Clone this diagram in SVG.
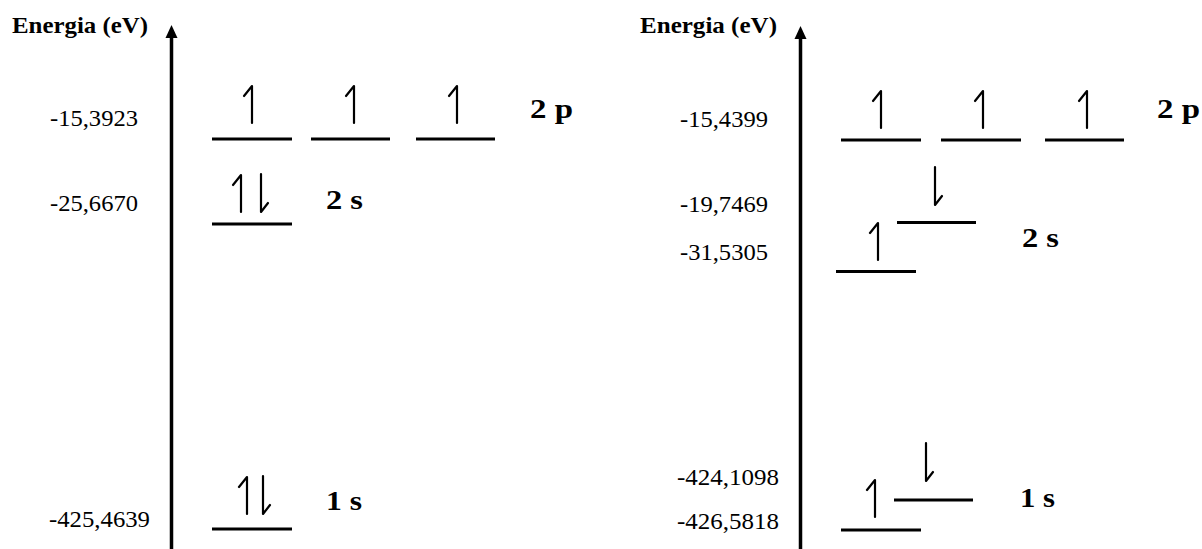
<svg xmlns="http://www.w3.org/2000/svg" xmlns:xlink="http://www.w3.org/1999/xlink" width="1202" height="549" viewBox="0 0 1202 549">
<style>
.num{font-family:"Liberation Serif","Times New Roman",serif;font-size:23px;fill:#000}
.ttl{font-family:"Liberation Serif","Times New Roman",serif;font-size:24px;font-weight:bold;fill:#000}
.lab{font-family:"Liberation Serif","Times New Roman",serif;font-size:27px;font-weight:bold;fill:#000}
.lvl{stroke:#000;stroke-width:3;fill:none}
.axis{stroke:#000;stroke-width:3.5;fill:none}
.sp{stroke:#000;stroke-width:2.2;fill:none;stroke-linecap:round;stroke-linejoin:round}
</style>
<defs>
<path id="up" class="sp" d="M0,0 V-37 L-8,-27"/>
<path id="dn" class="sp" d="M0,0 V38 L7,29"/>
</defs>
<rect width="1202" height="549" fill="#fff"/>
<g id="connectors">
<line class="axis" x1="171.5" y1="36" x2="171.5" y2="549"/>
<polygon points="171.5,25 165.5,38 177.5,38" fill="#000"/>
<line class="axis" x1="800.5" y1="37" x2="800.5" y2="549"/>
<polygon points="800.5,26 794.5,39 806.5,39" fill="#000"/>
</g>
<g id="left-axis-labels">
<text class="ttl" x="12" y="33" textLength="136" lengthAdjust="spacingAndGlyphs">Energia (eV)</text>
<text class="num" x="50" y="126" textLength="88" lengthAdjust="spacingAndGlyphs">-15,3923</text>
<text class="num" x="50" y="211" textLength="88" lengthAdjust="spacingAndGlyphs">-25,6670</text>
<text class="num" x="49" y="527" textLength="101" lengthAdjust="spacingAndGlyphs">-425,4639</text>
</g>
<g id="left-2p">
<line class="lvl" x1="212" y1="139" x2="292" y2="139"/>
<line class="lvl" x1="311" y1="139" x2="390" y2="139"/>
<line class="lvl" x1="416" y1="139" x2="495" y2="139"/>
<use xlink:href="#up" x="252" y="123"/>
<use xlink:href="#up" x="354" y="123"/>
<use xlink:href="#up" x="457" y="123"/>
<text class="lab" x="530" y="118" textLength="43" lengthAdjust="spacingAndGlyphs">2 p</text>
</g>
<g id="left-2s">
<line class="lvl" x1="212" y1="224" x2="292" y2="224"/>
<use xlink:href="#up" x="241" y="212"/>
<use xlink:href="#dn" x="261" y="174"/>
<text class="lab" x="326" y="209" textLength="37" lengthAdjust="spacingAndGlyphs">2 s</text>
</g>
<g id="left-1s">
<line class="lvl" x1="212" y1="529" x2="292" y2="529"/>
<use xlink:href="#up" x="247" y="514"/>
<use xlink:href="#dn" x="263" y="476"/>
<text class="lab" x="326" y="510" textLength="36" lengthAdjust="spacingAndGlyphs">1 s</text>
</g>
<g id="right-axis-labels">
<text class="ttl" x="640" y="33" textLength="137" lengthAdjust="spacingAndGlyphs">Energia (eV)</text>
<text class="num" x="680" y="127" textLength="88" lengthAdjust="spacingAndGlyphs">-15,4399</text>
<text class="num" x="680" y="212" textLength="88" lengthAdjust="spacingAndGlyphs">-19,7469</text>
<text class="num" x="680" y="260" textLength="88" lengthAdjust="spacingAndGlyphs">-31,5305</text>
<text class="num" x="677" y="485" textLength="102" lengthAdjust="spacingAndGlyphs">-424,1098</text>
<text class="num" x="677" y="529" textLength="102" lengthAdjust="spacingAndGlyphs">-426,5818</text>
</g>
<g id="right-2p">
<line class="lvl" x1="841" y1="140" x2="921" y2="140"/>
<line class="lvl" x1="941" y1="140" x2="1021" y2="140"/>
<line class="lvl" x1="1045" y1="140" x2="1124" y2="140"/>
<use xlink:href="#up" x="881" y="128"/>
<use xlink:href="#up" x="983" y="128"/>
<use xlink:href="#up" x="1087" y="128"/>
<text class="lab" x="1157" y="118" textLength="43" lengthAdjust="spacingAndGlyphs">2 p</text>
</g>
<g id="right-2s">
<line class="lvl" x1="897" y1="222.5" x2="976" y2="222.5"/>
<line class="lvl" x1="836" y1="271.5" x2="916" y2="271.5"/>
<use xlink:href="#dn" x="935" y="167"/>
<use xlink:href="#up" x="878" y="260"/>
<text class="lab" x="1022" y="247" textLength="37" lengthAdjust="spacingAndGlyphs">2 s</text>
</g>
<g id="right-1s">
<line class="lvl" x1="894" y1="500" x2="973" y2="500"/>
<line class="lvl" x1="841" y1="530" x2="921" y2="530"/>
<use xlink:href="#dn" x="926" y="443"/>
<use xlink:href="#up" x="875" y="517"/>
<text class="lab" x="1020" y="507" textLength="35" lengthAdjust="spacingAndGlyphs">1 s</text>
</g>
</svg>
